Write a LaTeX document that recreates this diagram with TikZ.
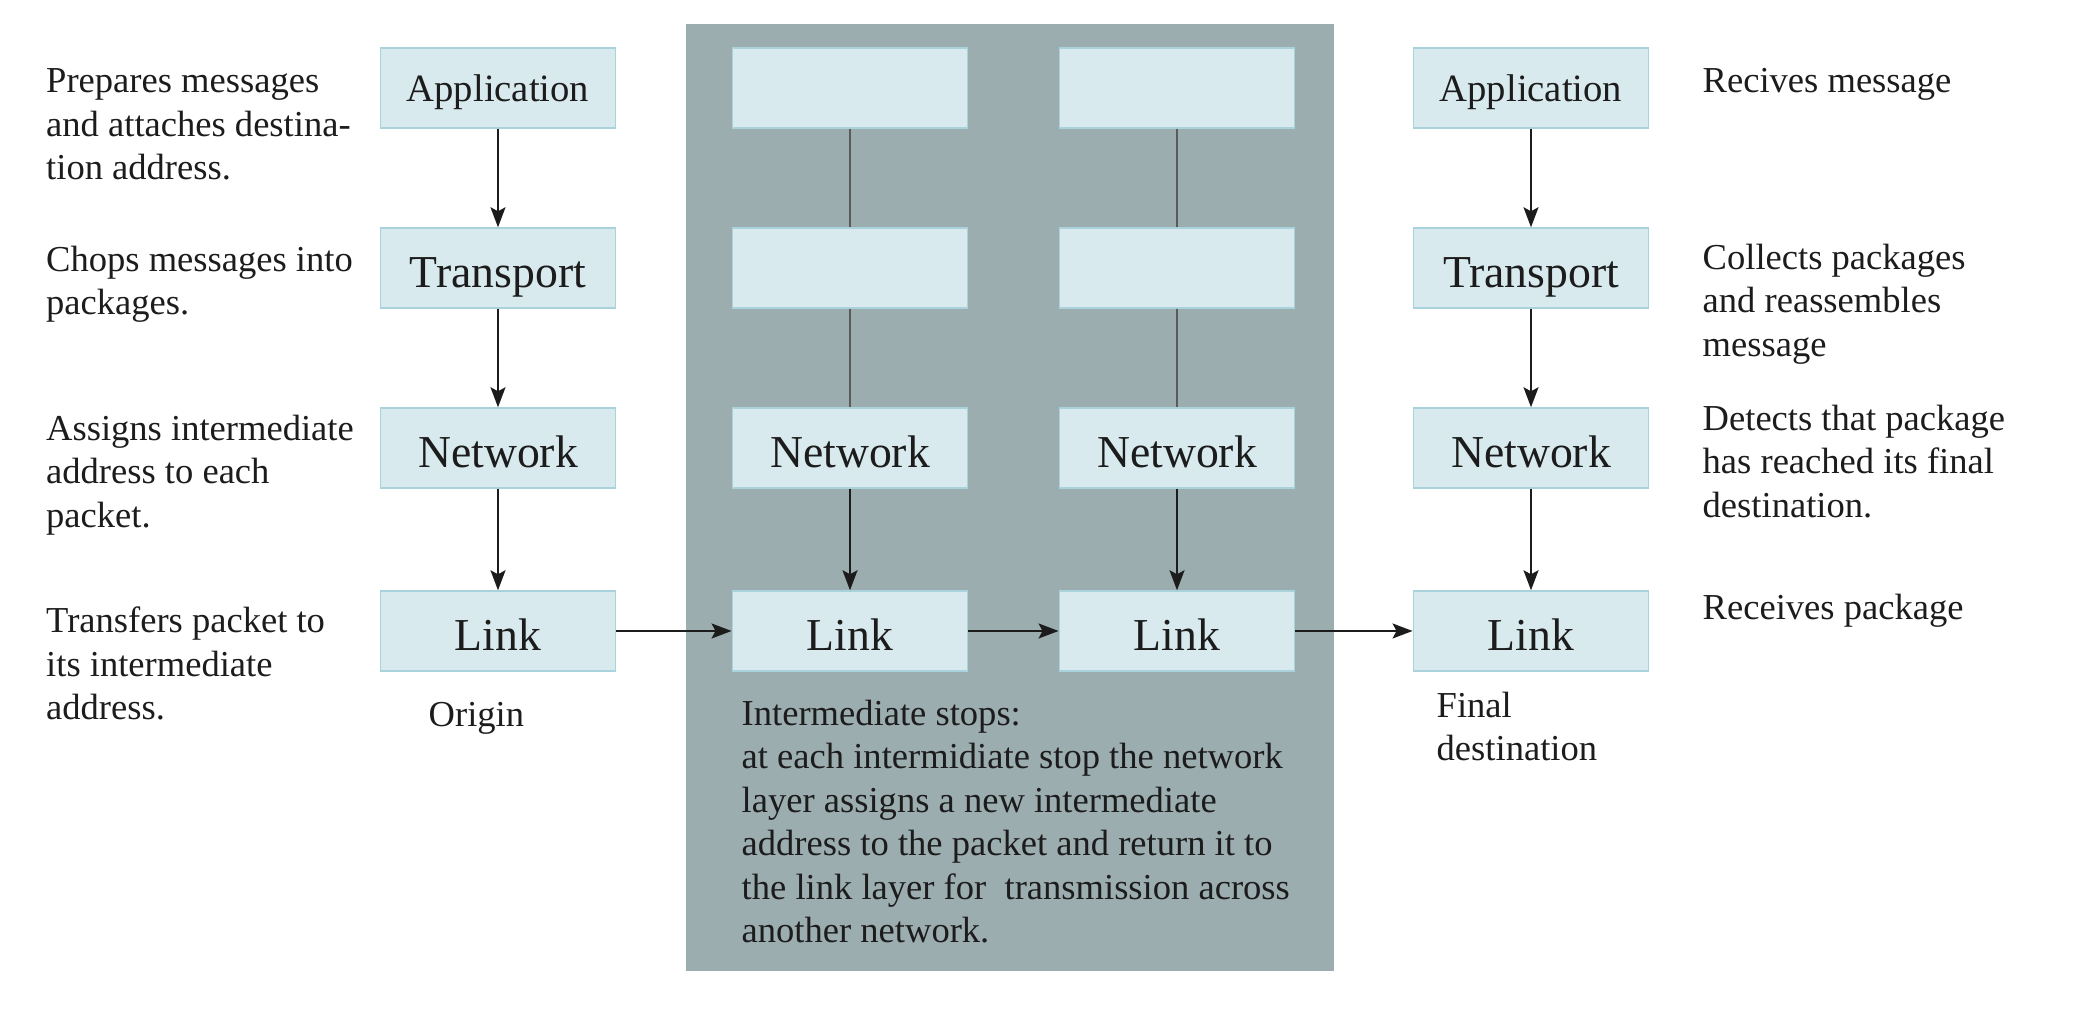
\documentclass[tikz,border=0pt]{standalone}
\usepackage{fontspec}
\setmainfont{Liberation Serif}
\usetikzlibrary{arrows.meta}
\definecolor{boxfill}{RGB}{216,234,238}
\definecolor{boxline}{RGB}{170,210,220}
\definecolor{stopgray}{RGB}{156,173,176}
\definecolor{inkblack}{RGB}{28,28,28}
\definecolor{tiegray}{RGB}{90,90,90}
\tikzset{
	layer/.style={draw=boxline, line width=0.4pt, fill=boxfill, minimum width=2.355cm, minimum height=0.8cm, inner sep=0pt, text=inkblack, text height=0.39cm, text depth=0pt, font=\fontsize{13}{15}\selectfont},
	applayer/.style={layer, text height=0.27cm, font=\fontsize{11}{13}\selectfont},
	note/.style={anchor=north west, inner sep=0pt, align=left, text=inkblack, font=\fontsize{10.4}{12.4}\selectfont},
	flow/.style={-{Stealth[length=2mm,width=1.5mm,inset=0.4mm]}, line width=0.55pt, color=inkblack},
	tie/.style={line width=0.5pt, color=tiegray}
}

\begin{document}
\begin{tikzpicture}
	%%%%% START %%%%%
	
	\useasboundingbox (0,0) rectangle (20.98,10.34);
	\fill[stopgray] (6.86,0.63) rectangle (13.34,10.10);
	
	% origin stack
	\node[applayer] (oapp) at (4.98,9.46) {Application};
	\node[layer] (otra) at (4.98,7.66) {Transport};
	\node[layer] (onet) at (4.98,5.86) {Network};
	\node[layer] (olnk) at (4.98,4.03) {Link};
	
	% intermediate stops
	\node[layer] (iapp) at (8.50,9.46) {};
	\node[layer] (itra) at (8.50,7.66) {};
	\node[layer] (inet) at (8.50,5.86) {Network};
	\node[layer] (ilnk) at (8.50,4.03) {Link};
	
	\node[layer] (japp) at (11.77,9.46) {};
	\node[layer] (jtra) at (11.77,7.66) {};
	\node[layer] (jnet) at (11.77,5.86) {Network};
	\node[layer] (jlnk) at (11.77,4.03) {Link};
	
	% final destination stack
	\node[applayer] (fapp) at (15.31,9.46) {Application};
	\node[layer] (ftra) at (15.31,7.66) {Transport};
	\node[layer] (fnet) at (15.31,5.86) {Network};
	\node[layer] (flnk) at (15.31,4.03) {Link};
	
	\draw[flow] (oapp) -- (otra);
	\draw[flow] (otra) -- (onet);
	\draw[flow] (onet) -- (olnk);
	\draw[tie] (iapp) -- (itra);
	\draw[tie] (itra) -- (inet);
	\draw[flow] (inet) -- (ilnk);
	\draw[tie] (japp) -- (jtra);
	\draw[tie] (jtra) -- (jnet);
	\draw[flow] (jnet) -- (jlnk);
	\draw[flow] (fapp) -- (ftra);
	\draw[flow] (ftra) -- (fnet);
	\draw[flow] (fnet) -- (flnk);
	
	\draw[flow] (olnk) -- (ilnk);
	\draw[flow] (ilnk) -- (jlnk);
	\draw[flow] (jlnk) -- (flnk);
	
	% left notes
	\node[note] (napp) at (0.455,9.66) {Prepares messages\\and attaches destina-\\tion address.};
	\node[note] (ntra) at (0.455,7.89) {Chops messages into\\packages.};
	\node[note] (nnet) at (0.455,6.20) {Assigns intermediate\\address to each\\packet.};
	\node[note] (nlnk) at (0.455,4.28) {Transfers packet to\\its intermediate\\address.};
	\node[note, anchor=base west] (norigin) at (4.28,3.07) {Origin};
	
	\node[note] (nstops) at (7.41,3.35) {Intermediate stops:\\at each intermidiate stop the network\\layer assigns a new intermediate\\address to the packet and return it to\\the link layer for~ transmission across\\another network.};
	
	% right notes
	\node[note] (nfinal) at (14.36,3.43) {Final\\destination};
	\node[note] (rapp) at (17.02,9.66) {Recives message};
	\node[note] (rtra) at (17.02,7.91) {Collects packages\\and reassembles\\message};
	\node[note] (rnet) at (17.02,6.30) {Detects that package\\has reached its final\\destination.};
	\node[note] (rlnk) at (17.02,4.41) {Receives package};
	
	%%%%% END %%%%%
\end{tikzpicture}
\end{document}
